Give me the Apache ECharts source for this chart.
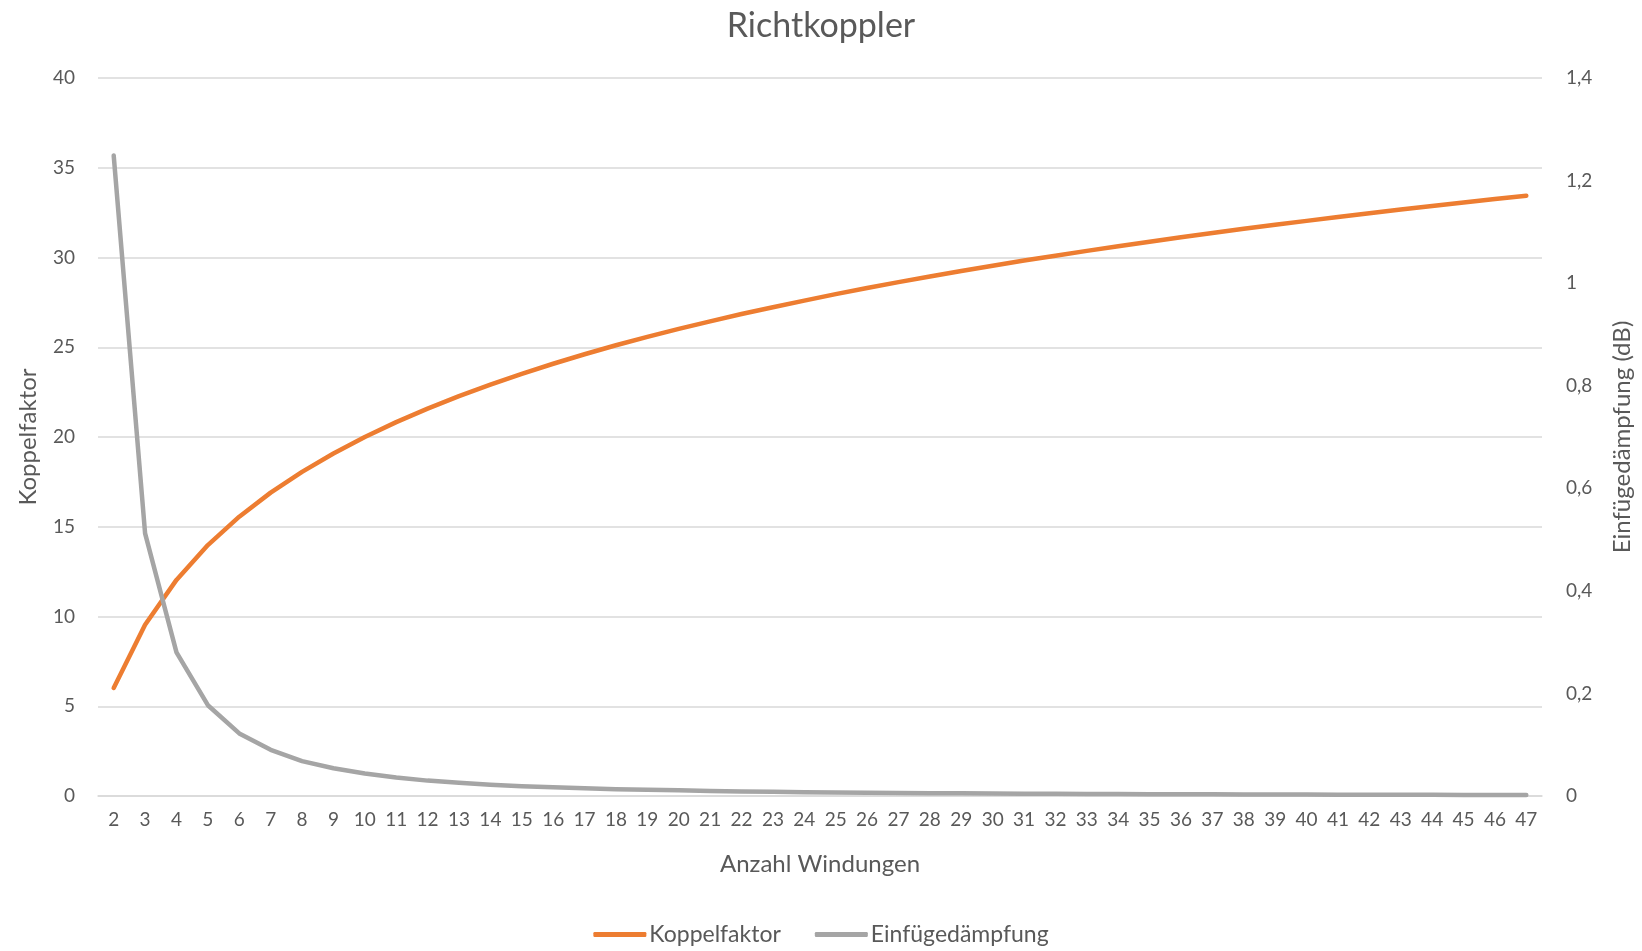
<!DOCTYPE html>
<html><head><meta charset="utf-8">
<script src="https://cdn.jsdelivr.net/npm/echarts@6/dist/echarts.min.js"></script>
<style>html,body{margin:0;padding:0;background:#fff}#c{width:1642px;height:951px}</style>
</head><body><div id="c"></div>
<script>
const categories = ['2','3','4','5','6','7','8','9','10','11','12','13','14','15','16','17','18','19','20','21','22','23','24','25','26','27','28','29','30','31','32','33','34','35','36','37','38','39','40','41','42','43','44','45','46','47'];
const koppelfaktor = [6.02,9.54,12.04,13.98,15.56,16.90,18.06,19.08,20.00,20.83,21.58,22.28,22.92,23.52,24.08,24.61,25.11,25.58,26.02,26.44,26.85,27.23,27.60,27.96,28.30,28.63,28.94,29.25,29.54,29.83,30.10,30.37,30.63,30.88,31.13,31.36,31.60,31.82,32.04,32.26,32.46,32.67,32.87,33.06,33.26,33.44];
const einfuegedaempfung = [1.249,0.512,0.280,0.177,0.122,0.090,0.068,0.054,0.044,0.036,0.030,0.026,0.022,0.019,0.017,0.015,0.013,0.012,0.011,0.0099,0.0090,0.0082,0.0075,0.0070,0.0064,0.0060,0.0055,0.0052,0.0048,0.0045,0.0042,0.0040,0.0038,0.0035,0.0034,0.0032,0.0030,0.0029,0.0027,0.0026,0.0025,0.0023,0.0022,0.0021,0.0021,0.0020];
const leftTicks = {min:0, max:40, interval:5};
const rightTicks = {min:0, max:1.4, interval:0.2};

const FONT = 'Lato';
const TXT = '#595959';
const chart = echarts.init(document.getElementById('c'), null, {renderer:'canvas'});
chart.setOption({
  animation:false,
  textStyle:{fontFamily:FONT, color:TXT},
  title:{text:'Richtkoppler', left:'center', top:4, textStyle:{fontFamily:FONT, fontSize:34, fontWeight:'normal', color:TXT}},
  grid:{left:98, right:99, top:78, bottom:155, containLabel:false},
  legend:{bottom:0, left:'center', itemWidth:53, itemHeight:5, itemGap:34, icon:'roundRect',
    textStyle:{fontFamily:FONT, fontSize:23, color:TXT, padding:[0,0,0,-2]},
    data:['Koppelfaktor','Einfügedämpfung']},
  xAxis:{type:'category', data:categories, boundaryGap:true,
    name:'Anzahl Windungen', nameLocation:'middle', nameGap:56,
    nameTextStyle:{fontFamily:FONT, fontSize:24, color:TXT},
    axisLine:{show:true, lineStyle:{color:'#d9d9d9', width:1.5}}, axisTick:{show:false},
    axisLabel:{interval:0, fontFamily:FONT, fontSize:19, color:TXT, margin:14}},
  yAxis:[
    {type:'value', min:leftTicks.min, max:leftTicks.max, interval:leftTicks.interval,
     name:'Koppelfaktor', nameLocation:'middle', nameGap:58, nameRotate:90,
     nameTextStyle:{fontFamily:FONT, fontSize:24, color:TXT},
     axisLine:{show:false}, axisTick:{show:false},
     axisLabel:{fontFamily:FONT, fontSize:19, color:TXT, margin:23},
     splitLine:{lineStyle:{color:'#d9d9d9', width:1.5}}},
    {type:'value', min:rightTicks.min, max:rightTicks.max, interval:rightTicks.interval,
     name:'Einfügedämpfung (dB)', nameLocation:'middle', nameGap:68, nameRotate:90,
     nameTextStyle:{fontFamily:FONT, fontSize:24, color:TXT},
     axisLine:{show:false}, axisTick:{show:false}, splitLine:{show:false},
     axisLabel:{fontFamily:FONT, fontSize:19, color:TXT, margin:24,
       formatter:v=>String(Math.round(v*10)/10).replace('.',',')}}
  ],
  series:[
    {name:'Koppelfaktor', type:'line', yAxisIndex:0, data:koppelfaktor, symbol:'none',
     itemStyle:{color:'#ED7D31'}, lineStyle:{color:'#ED7D31', width:4.5, cap:'round', join:'round'}},
    {name:'Einfügedämpfung', type:'line', yAxisIndex:1, data:einfuegedaempfung, symbol:'none',
     itemStyle:{color:'#A5A5A5'}, lineStyle:{color:'#A5A5A5', width:4.5, cap:'round', join:'round'}}
  ]
});
</script></body></html>
